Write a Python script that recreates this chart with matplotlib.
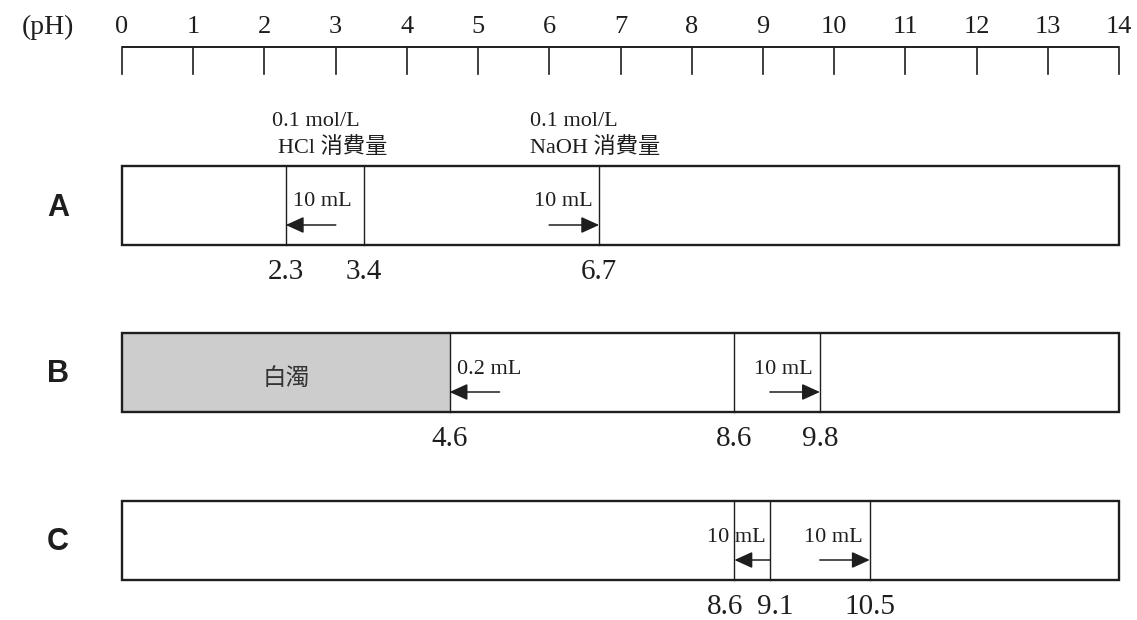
import matplotlib.pyplot as plt
from matplotlib.patches import Rectangle

# pH scale
ph_ticks = list(range(15))

# rows A, B, C: starting pH, pH after HCl, pH after NaOH
rows = ['A', 'B', 'C']
start_ph = [3.4, 8.6, 9.1]
hcl_ph = [2.3, 4.6, 8.6]
naoh_ph = [6.7, 9.8, 10.5]
hcl_vol = ['10 mL', '0.2 mL', '10 mL']
naoh_vol = ['10 mL', '10 mL', '10 mL']

# cloudy (白濁) region in row B
cloudy_row = 'B'
cloudy_range = (0, 4.6)
cloudy_text = '白濁'

hcl_note = ['0.1 mol/L', 'HCl 消費量']
naoh_note = ['0.1 mol/L', 'NaOH 消費量']

# layout in pixels
W, H = 1137, 620
X0, X14 = 122, 1119
ppu = (X14 - X0) / 14.0
box_top = [166, 333, 501]
box_h = 79


def px(n):
    # pixels -> pH units
    return n / ppu


fig = plt.figure(figsize=(W / 100, H / 100), dpi=100)
ax = fig.add_axes([0, 0, 1, 1])
ax.set_xlim(-px(X0), px(W - X0))
ax.set_ylim(H, 0)
ax.axis('off')

serif = ['Liberation Serif', 'Noto Sans CJK JP']
ink = '#1e1e1e'

# top pH ruler
ax.plot([ph_ticks[0], ph_ticks[-1]], [47, 47], color=ink, lw=1.4, solid_capstyle='butt')
for t in ph_ticks:
    ax.plot([t, t], [47, 74], color=ink, lw=1.2)
    ax.text(t, 27, str(t), ha='center', va='center', fontsize=19, family=serif, color=ink)
ax.text(-px(74), 27, '(pH)', ha='center', va='center', fontsize=20, family=serif, color=ink)

# notes above row A
ax.text(px(272 - X0), 122, hcl_note[0], ha='left', va='center', fontsize=16, family=serif, color=ink)
ax.text(px(278 - X0), 148, hcl_note[1], ha='left', va='center', fontsize=16, family=serif, color=ink)
ax.text(px(530 - X0), 122, naoh_note[0], ha='left', va='center', fontsize=16, family=serif, color=ink)
ax.text(px(530 - X0), 148, naoh_note[1], ha='left', va='center', fontsize=16, family=serif, color=ink)

for i, r in enumerate(rows):
    top = box_top[i]
    bot = top + box_h
    ax.add_patch(Rectangle((ph_ticks[0], top), ph_ticks[-1] - ph_ticks[0], box_h,
                           fill=False, lw=1.7, ec=ink, zorder=3))
    if r == cloudy_row:
        c0, c1 = cloudy_range
        ax.add_patch(Rectangle((c0, top), c1 - c0, box_h, fc='#cdcdcd', ec='none', zorder=0.5))
        ax.text((c0 + c1) / 2, top + box_h / 2 + 6, cloudy_text, ha='center', va='center',
                fontsize=17, family=['Noto Sans CJK JP'], color='#333333')

    # row label
    ax.text(-px(64), top + box_h / 2 + 2, r, ha='center', va='center', fontsize=22,
            fontweight='bold', family='Liberation Sans', color=ink)

    # dividing lines and values
    vals = sorted([start_ph[i], hcl_ph[i], naoh_ph[i]])
    for k, v in enumerate(vals):
        ax.plot([v, v], [top, bot], color=ink, lw=1.0)
        nudge = 0
        if k + 1 < len(vals) and (vals[k + 1] - v) * ppu < 45:
            nudge = -px(9)
        if k > 0 and (v - vals[k - 1]) * ppu < 45:
            nudge = px(5)
        ax.text(v + nudge, bot + 27, f'{v}', ha='center', va='center', fontsize=21,
                family=serif, color=ink)

    # arrows with added volume
    s = start_ph[i]
    for end, vol, side in [(hcl_ph[i], hcl_vol[i], -1), (naoh_ph[i], naoh_vol[i], 1)]:
        gap = abs(end - s) * ppu
        tail = end - side * px(min(50, gap))
        ax.annotate('', xy=(end, top + 59), xytext=(tail, top + 59),
                    arrowprops=dict(arrowstyle='-|>,head_length=1.1,head_width=0.5',
                                    mutation_scale=10, lw=1.1, color=ink,
                                    shrinkA=0, shrinkB=0))
        if gap < 50:
            tx = s + side * px(4)
            ha = 'right' if side < 0 else 'left'
        else:
            tx = end - side * px(7)
            ha = 'left' if side < 0 else 'right'
        ax.text(tx, top + 36, vol, ha=ha, va='center', fontsize=16, family=serif, color=ink)

fig.savefig('out.png', dpi=100)
